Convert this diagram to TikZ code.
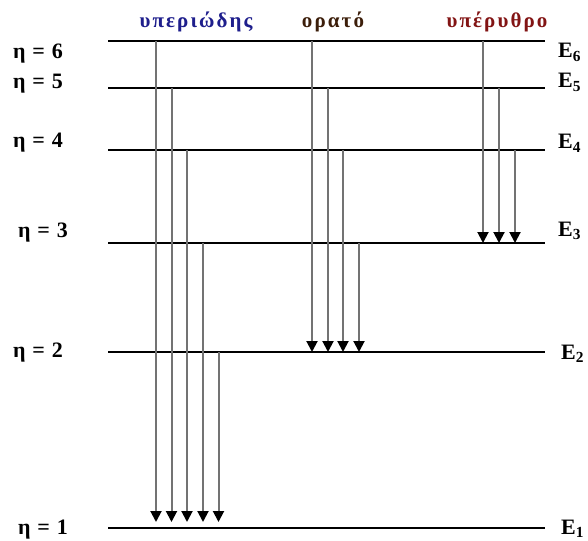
\documentclass[tikz,border=0pt]{standalone}
\usepackage{fontspec}
\setmainfont{Liberation Serif}
\usetikzlibrary{arrows.meta}
\definecolor{uvblue}{RGB}{30,30,140}
\definecolor{visdark}{RGB}{60,30,10}
\definecolor{irred}{RGB}{130,20,20}
\tikzset{
  level/.style={draw=black, line width=1.1pt},
  trans/.style={draw=black!55, line width=2pt, -{Triangle[width=11pt,length=11pt,color=black,fill=black]}},
  nlabel/.style={anchor=base west, inner sep=0pt, font=\fontsize{22}{24}\selectfont\bfseries\addfontfeatures{LetterSpace=6}},
  elabel/.style={anchor=base west, inner sep=0pt, font=\fontsize{22}{24}\selectfont\bfseries},
  title/.style={anchor=base, inner sep=0pt, font=\fontsize{21}{24}\selectfont\bfseries\addfontfeatures{LetterSpace=10}}
}
\begin{document}
\begin{tikzpicture}[x=1pt,y=-1pt]
\useasboundingbox (0,0) rectangle (588,540);
% level line ends
\foreach \n/\y in {6/41,5/88,4/150,3/243,2/352,1/528}{
  \coordinate (A\n) at (108,\y);
  \coordinate (B\n) at (545,\y);
}
\foreach \n in {1,...,6}{ \draw[level] (A\n) -- (B\n); }
% labels
\node[nlabel] (n6) at (13,59) {η = 6};
\node[nlabel] (n5) at (13,89) {η = 5};
\node[nlabel] (n4) at (13,148) {η = 4};
\node[nlabel] (n3) at (18,237) {η = 3};
\node[nlabel] (n2) at (13,357) {η = 2};
\node[nlabel] (n1) at (18,534) {η = 1};
\node[elabel] (e6) at (558,58) {E\textsubscript{6}};
\node[elabel] (e5) at (558,88) {E\textsubscript{5}};
\node[elabel] (e4) at (558,149) {E\textsubscript{4}};
\node[elabel] (e3) at (558,236.5) {E\textsubscript{3}};
\node[elabel] (e2) at (561,359) {E\textsubscript{2}};
\node[elabel] (e1) at (561,534) {E\textsubscript{1}};
\node[title, text=uvblue] (uv) at (196,28) {υπεριώδης};
\node[title, text=visdark] (vis) at (333,28) {ορατό};
\node[title, text=irred] (ir) at (497,28) {υπέρυθρο};
% Lyman
\coordinate (L6s) at (156,41);   \coordinate (L6e) at (156,522);
\coordinate (L5s) at (171.5,88); \coordinate (L5e) at (171.5,522);
\coordinate (L4s) at (187,150);  \coordinate (L4e) at (187,522);
\coordinate (L3s) at (203,243);  \coordinate (L3e) at (203,522);
\coordinate (L2s) at (218.5,352);\coordinate (L2e) at (218.5,522);
\foreach \n in {6,5,4,3,2}{ \draw[trans] (L\n s) -- (L\n e); }
% Balmer
\coordinate (B6s) at (312,41);  \coordinate (B6e) at (312,352);
\coordinate (B5s) at (328,88);  \coordinate (B5e) at (328,352);
\coordinate (B4s) at (343,150); \coordinate (B4e) at (343,352);
\coordinate (B3s) at (359,243); \coordinate (B3e) at (359,352);
\foreach \n in {6,5,4,3}{ \draw[trans] (B\n s) -- (B\n e); }
% Paschen
\coordinate (P6s) at (483,41);  \coordinate (P6e) at (483,243);
\coordinate (P5s) at (499,88);  \coordinate (P5e) at (499,243);
\coordinate (P4s) at (515,150); \coordinate (P4e) at (515,243);
\foreach \n in {6,5,4}{ \draw[trans] (P\n s) -- (P\n e); }
\end{tikzpicture}
\end{document}
